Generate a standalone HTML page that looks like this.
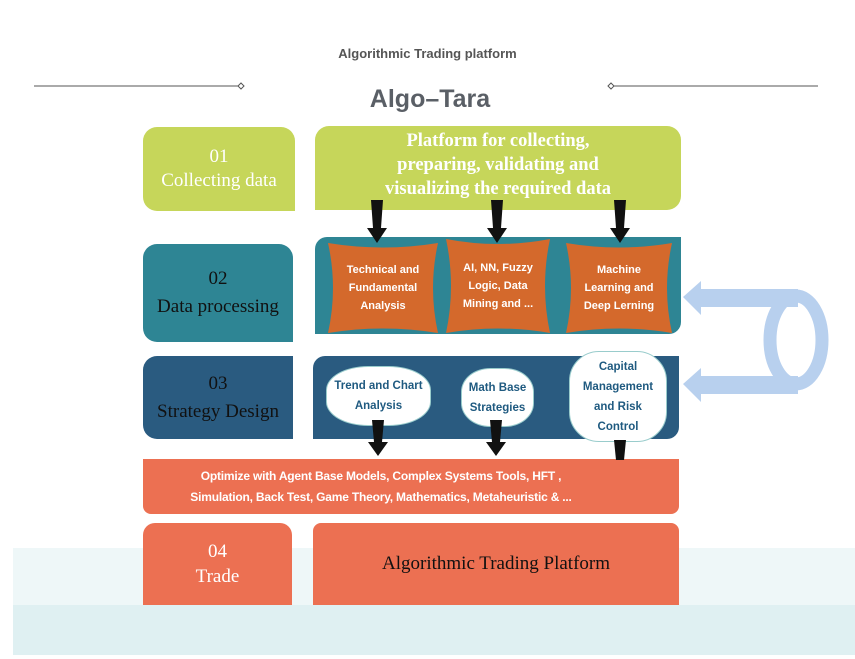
<!DOCTYPE html>
<html><head><style>
body{margin:0;width:855px;height:659px;background:#fff;position:relative;overflow:hidden;font-family:"Liberation Sans",sans-serif}
div{position:absolute;box-sizing:border-box}
.s{font-family:"Liberation Serif",serif;text-align:center;display:flex;align-items:center;justify-content:center}
.w{color:#fff}
.bub{background:#fff;border:1px solid #9cc;border-radius:40%;color:#1f5a80;font-weight:bold;font-size:11.5px;line-height:20px;text-align:center;display:flex;align-items:center;justify-content:center}
.or{color:#fff;font-weight:bold;font-size:11px;line-height:18px;text-align:center;display:flex;align-items:center;justify-content:center}
</style></head><body>
<div style="left:13px;top:548px;width:842px;height:57px;background:#eef7f8"></div>
<div style="left:13px;top:605px;width:842px;height:50px;background:#dff0f2"></div>
<div style="left:0;top:46px;width:855px;text-align:center;font-weight:bold;font-size:13px;color:#555">Algorithmic Trading platform</div>
<div style="left:0;top:85px;width:860px;text-align:center;font-weight:bold;font-size:25px;color:#5a5f66">Algo–Tara</div>
<svg style="position:absolute;left:0;top:0" width="855" height="659">
<line x1="34" y1="86" x2="238" y2="86" stroke="#555"/><path d="M238 86l3-3 3 3-3 3z" fill="#fff" stroke="#555"/>
<line x1="614" y1="86" x2="818" y2="86" stroke="#555"/><path d="M608 86l3-3 3 3-3 3z" fill="#fff" stroke="#555"/>
</svg>
<div class="s w" style="left:143px;top:127px;width:152px;height:84px;background:#c6d65a;border-radius:14px 14px 0 14px;font-size:19px;line-height:24px">01<br>Collecting data</div>
<div class="s w" style="left:315px;top:126px;width:366px;height:84px;background:#c6d65a;border-radius:14px 14px 14px 0;font-size:18.5px;font-weight:bold;line-height:24px;padding-bottom:6px">Platform for collecting,<br>preparing, validating and<br>visualizing the required data</div>
<div class="s" style="left:143px;top:244px;width:150px;height:98px;background:#2e8594;border-radius:14px 14px 0 14px;font-size:19px;line-height:28px;color:#111">02<br>Data processing</div>
<div style="left:315px;top:237px;width:366px;height:97px;background:#2e8594;border-radius:12px 0 12px 0"></div>
<svg style="position:absolute;left:0;top:0" width="855" height="659">
<g fill="#d4692c">
<path d="M328 243 Q383 252 438 243 Q428 288 438 333 Q383 324 328 333 Q338 288 328 243z"/>
<path d="M446 239 Q498 249 550 239 Q540 286 550 333 Q498 324 446 333 Q456 286 446 239z"/>
<path d="M566 243 Q619 252 672 243 Q662 288 672 333 Q619 324 566 333 Q576 288 566 243z"/>
</g>
</svg>
<div class="or" style="left:328px;top:243px;width:110px;height:90px">Technical and<br>Fundamental<br>Analysis</div>
<div class="or" style="left:446px;top:239px;width:104px;height:94px">AI, NN, Fuzzy<br>Logic, Data<br>Mining and ...</div>
<div class="or" style="left:566px;top:243px;width:106px;height:90px">Machine<br>Learning and<br>Deep Lerning</div>
<div class="s" style="left:143px;top:356px;width:150px;height:83px;background:#2a5b80;border-radius:14px 0 0 14px;font-size:19px;line-height:28px;color:#111">03<br>Strategy Design</div>
<div style="left:313px;top:356px;width:366px;height:83px;background:#2a5b80;border-radius:12px 0 12px 0"></div>
<div class="bub" style="left:326px;top:366px;width:105px;height:60px">Trend and Chart<br>Analysis</div>
<div class="bub" style="left:461px;top:368px;width:73px;height:59px">Math Base<br>Strategies</div>
<div class="bub" style="left:569px;top:351px;width:98px;height:91px;border-radius:30px">Capital<br>Management<br>and Risk<br>Control</div>
<div class="or" style="left:143px;top:459px;width:536px;height:55px;background:#ec7052;border-radius:0 0 8px 8px;font-size:12px;line-height:21px;padding-right:60px;letter-spacing:-0.2px">Optimize with Agent Base Models, Complex Systems Tools, HFT ,<br>Simulation, Back Test, Game Theory, Mathematics, Metaheuristic &amp; ...</div>
<div class="s w" style="left:143px;top:523px;width:149px;height:82px;background:#ec7052;border-radius:12px 12px 0 0;font-size:19px;line-height:25px">04<br>Trade</div>
<div class="s" style="left:313px;top:523px;width:366px;height:82px;background:#ec7052;border-radius:8px 8px 0 0;font-size:19px;color:#111">Algorithmic Trading Platform</div>
<svg style="position:absolute;left:0;top:0" width="855" height="659">
<g fill="#111">
<path d="M371 200h12l-2 28h6l-10 15-10-15h6z"/>
<path d="M491 200h12l-2 28h6l-10 15-10-15h6z"/>
<path d="M614 200h12l-2 28h6l-10 15-10-15h6z"/>
<path d="M372 420h12l-2 22h6l-10 14-10-14h6z"/>
<path d="M490 420h12l-2 22h6l-10 14-10-14h6z"/>
<path d="M614 440h12l-2 20h-8z"/>
</g>
<g fill="#b8d0ee">
<path d="M683 297l18-16v8h97v18h-97v8z"/>
<path d="M683 384l18-16v8h97v18h-97v8z"/>
<ellipse cx="796" cy="340" rx="26" ry="44" fill="none" stroke="#b8d0ee" stroke-width="13"/>
</g>
</svg>
</body></html>
